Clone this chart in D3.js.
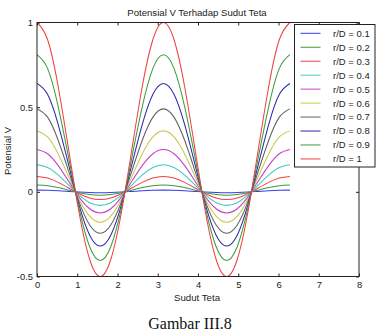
<!DOCTYPE html>
<html><head><meta charset="utf-8">
<script src="https://cdn.jsdelivr.net/npm/d3@7"></script>
<style>body{margin:0;background:#fff}svg{display:block}text{font-family:"Liberation Sans",Arial,sans-serif}</style>
</head><body><svg id="c" width="378" height="330"></svg>
<script>
const theta = [0, 0.2618, 0.5236, 0.7854, 1.0472, 1.309, 1.5708, 1.8326, 2.0944, 2.3562, 2.618, 2.8798, 3.1416, 3.4034, 3.6652, 3.927, 4.1888, 4.4506, 4.7124, 4.9742, 5.236, 5.4978, 5.7596, 6.0214, 6.2832];
const labels = ["r/D = 0.1","r/D = 0.2","r/D = 0.3","r/D = 0.4","r/D = 0.5","r/D = 0.6","r/D = 0.7","r/D = 0.8","r/D = 0.9","r/D = 1"];
const v01 = [0.01,0.009,0.0063,0.0025,-0.0013,-0.004,-0.005,-0.004,-0.0013,0.0025,0.0063,0.009,0.01,0.009,0.0063,0.0025,-0.0013,-0.004,-0.005,-0.004,-0.0013,0.0025,0.0063,0.009,0.01];
const v02 = [0.04,0.036,0.025,0.01,-0.005,-0.016,-0.02,-0.016,-0.005,0.01,0.025,0.036,0.04,0.036,0.025,0.01,-0.005,-0.016,-0.02,-0.016,-0.005,0.01,0.025,0.036,0.04];
const v03 = [0.09,0.081,0.056,0.0225,-0.011,-0.036,-0.045,-0.036,-0.011,0.0225,0.056,0.081,0.09,0.081,0.056,0.0225,-0.011,-0.036,-0.045,-0.036,-0.011,0.0225,0.056,0.081,0.09];
const v04 = [0.16,0.144,0.1,0.04,-0.02,-0.064,-0.08,-0.064,-0.02,0.04,0.1,0.144,0.16,0.144,0.1,0.04,-0.02,-0.064,-0.08,-0.064,-0.02,0.04,0.1,0.144,0.16];
const v05 = [0.25,0.225,0.156,0.0625,-0.031,-0.1,-0.125,-0.1,-0.031,0.0625,0.156,0.225,0.25,0.225,0.156,0.0625,-0.031,-0.1,-0.125,-0.1,-0.031,0.0625,0.156,0.225,0.25];
const v06 = [0.36,0.324,0.225,0.09,-0.045,-0.144,-0.18,-0.144,-0.045,0.09,0.225,0.324,0.36,0.324,0.225,0.09,-0.045,-0.144,-0.18,-0.144,-0.045,0.09,0.225,0.324,0.36];
const v07 = [0.49,0.441,0.306,0.1225,-0.061,-0.196,-0.245,-0.196,-0.061,0.1225,0.306,0.441,0.49,0.441,0.306,0.1225,-0.061,-0.196,-0.245,-0.196,-0.061,0.1225,0.306,0.441,0.49];
const v08 = [0.64,0.576,0.4,0.16,-0.08,-0.256,-0.32,-0.256,-0.08,0.16,0.4,0.576,0.64,0.576,0.4,0.16,-0.08,-0.256,-0.32,-0.256,-0.08,0.16,0.4,0.576,0.64];
const v09 = [0.81,0.729,0.506,0.2025,-0.101,-0.324,-0.405,-0.324,-0.101,0.2025,0.506,0.729,0.81,0.729,0.506,0.2025,-0.101,-0.324,-0.405,-0.324,-0.101,0.2025,0.506,0.729,0.81];
const v10 = [1,0.8995,0.625,0.25,-0.125,-0.3995,-0.5,-0.3995,-0.125,0.25,0.625,0.8995,1,0.8995,0.625,0.25,-0.125,-0.3995,-0.5,-0.3995,-0.125,0.25,0.625,0.8995,1];
const xTicks = [0,1,2,3,4,5,6,7,8];
const yTicks = [-0.5,0,0.5,1];
const yTickLabels = ["-0.5","0","0.5","1"];
const colors = ["#3c3cf0","#3c9c3c","#f04040","#40c8c8","#c840c8","#c8c850","#606060","#2a2aa8","#3c9c3c","#f04040"];
const series = [v01,v02,v03,v04,v05,v06,v07,v08,v09,v10];

const svg = d3.select("#c");
const L=37, R=359, T=22.5, B=276.5;
const x = d3.scaleLinear().domain([0,8]).range([L,R]);
const y = d3.scaleLinear().domain([-0.5,1]).range([B,T]);

svg.append("defs").append("clipPath").attr("id","clip").append("rect")
  .attr("x",L).attr("y",T-1).attr("width",R-L).attr("height",B-T+2);

const line = d3.line().x((d,i)=>x(theta[i])).y(d=>y(d)).curve(d3.curveNatural);
const g = svg.append("g").attr("clip-path","url(#clip)");
series.forEach((s,k)=>{
  g.append("path").attr("d",line(s)).attr("fill","none").attr("stroke",colors[k]).attr("stroke-width",1.05);
});

// axes
const axB = d3.axisBottom(x).tickValues(xTicks).tickSize(-3).tickPadding(5).tickFormat(d3.format("d"));
const axT = d3.axisTop(x).tickValues(xTicks).tickSize(-3).tickFormat("");
const axL = d3.axisLeft(y).tickValues(yTicks).tickSize(-3).tickPadding(4).tickFormat((d,i)=>yTickLabels[i]);
const axR = d3.axisRight(y).tickValues(yTicks).tickSize(-3).tickFormat("");
function style(sel){sel.select(".domain").remove();sel.selectAll("line").attr("stroke","#222");sel.selectAll("text").attr("font-size","9.4px").attr("fill","#222").attr("font-family","Liberation Sans, Arial, sans-serif");}
svg.append("g").attr("transform",`translate(0,${B})`).call(axB).call(style);
svg.append("g").attr("transform",`translate(0,${T})`).call(axT).call(style);
svg.append("g").attr("transform",`translate(${L},0)`).call(axL).call(style);
svg.append("g").attr("transform",`translate(${R},0)`).call(axR).call(style);
svg.append("rect").attr("x",L).attr("y",T).attr("width",R-L).attr("height",B-T).attr("fill","none").attr("stroke","#222").attr("stroke-width",1);

// titles
svg.append("text").attr("x",197).attr("y",16).attr("text-anchor","middle").attr("font-size","9.6px").attr("fill","#222").text("Potensial V Terhadap Sudut Teta");
svg.append("text").attr("x",197).attr("y",300.5).attr("text-anchor","middle").attr("font-size","9.7px").attr("fill","#222").text("Sudut Teta");
svg.append("text").attr("transform","translate(10.5,151) rotate(-90)").attr("text-anchor","middle").attr("font-size","9.5px").attr("fill","#222").text("Potensial V");
svg.append("text").attr("x",190).attr("y",328.5).attr("text-anchor","middle").attr("font-size","16px").attr("fill","#111").style("font-family","Liberation Serif, Times New Roman, serif").text("Gambar III.8");

// legend
const lg = svg.append("g");
lg.append("rect").attr("x",294.5).attr("y",24.5).attr("width",80.5).attr("height",142.5).attr("fill","#fff").attr("stroke","#222").attr("stroke-width",1);
labels.forEach((lab,k)=>{
  const yy = 33.3 + k*13.96;
  lg.append("line").attr("x1",300.5).attr("x2",320.5).attr("y1",yy).attr("y2",yy).attr("stroke",colors[k]).attr("stroke-width",1);
  lg.append("text").attr("x",333).attr("y",yy+3.4).attr("font-size","9.5px").attr("fill","#222").text(lab);
});
</script></body></html>
